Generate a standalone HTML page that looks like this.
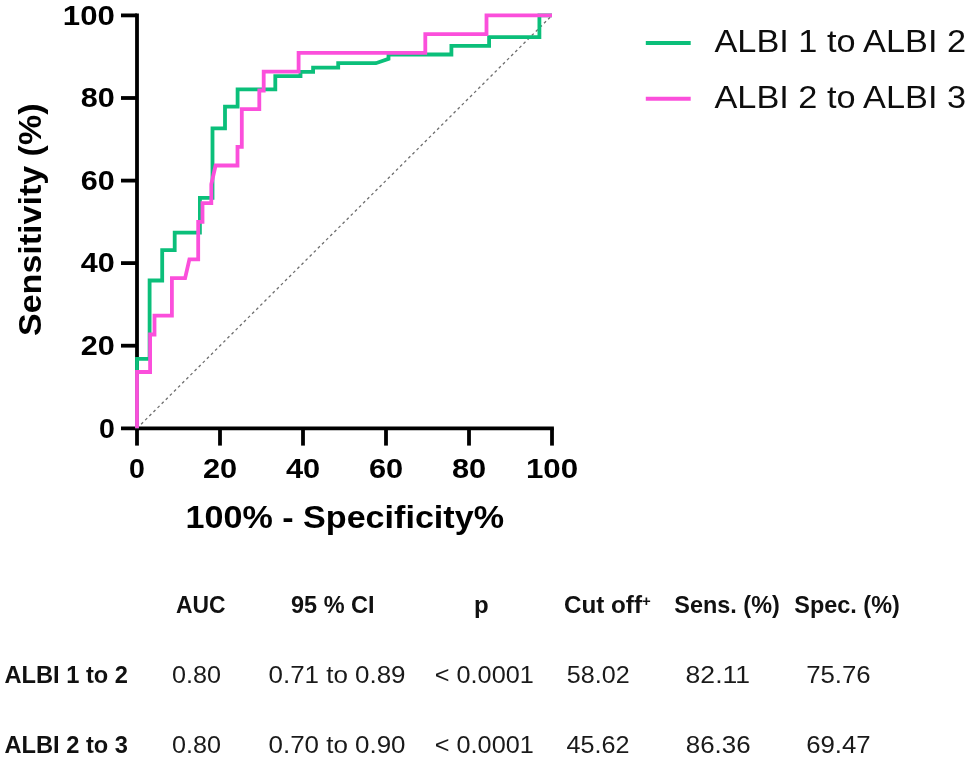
<!DOCTYPE html>
<html lang="en">
<head>
<meta charset="utf-8">
<title>ROC curves ALBI</title>
<style>
html,body{margin:0;padding:0;background:#fff;}
body{width:968px;height:757px;overflow:hidden;}
svg{display:block;}
text{font-family:"Liberation Sans",sans-serif;fill:#000;}
.b{font-weight:bold;}
.tk{font-weight:bold;font-size:28.5px;}
.ax{font-weight:bold;font-size:31px;}
.lg{font-size:30.8px;fill:#0d0d0d;}
.th{font-weight:bold;font-size:24px;fill:#111;}
.td{font-size:24px;fill:#1a1a1a;}
</style>
</head>
<body>
<svg width="968" height="757" viewBox="0 0 968 757">
<rect x="0" y="0" width="968" height="757" fill="#ffffff"/>
<line x1="137.0" y1="428.3" x2="552.0" y2="15.4" stroke="#6e6e6e" stroke-width="1.3" stroke-dasharray="2.8 3"/>
<g stroke="#000" stroke-width="3.8" fill="none" stroke-linecap="butt">
<path d="M137.0 13.5 V430.2"/>
<path d="M121.0 428.3 H553.9"/>
<path d="M121.0 345.7 H137.0"/>
<path d="M121.0 263.1 H137.0"/>
<path d="M121.0 180.6 H137.0"/>
<path d="M121.0 98.0 H137.0"/>
<path d="M121.0 15.4 H137.0"/>
<path d="M137.0 428.3 V445.6"/>
<path d="M220.0 428.3 V445.6"/>
<path d="M303.0 428.3 V445.6"/>
<path d="M386.0 428.3 V445.6"/>
<path d="M469.0 428.3 V445.6"/>
<path d="M552.0 428.3 V445.6"/>
</g>
<path d="M137.0 428.3 L137.0 358.8 L149.6 358.8 L149.6 280.5 L162.2 280.5 L162.2 250.1 L174.7 250.1 L174.7 232.7 L199.9 232.7 L199.9 197.9 L212.5 197.9 L212.5 128.4 L225.0 128.4 L225.0 106.7 L237.6 106.7 L237.6 89.3 L275.3 89.3 L275.3 76.2 L300.5 76.2 L300.5 71.9 L313.1 71.9 L313.1 67.6 L338.2 67.6 L338.2 63.2 L375.9 63.2 L388.5 58.9 L388.5 54.5 L451.4 54.5 L451.4 45.8 L489.1 45.8 L489.1 37.1 L539.4 37.1 L539.4 15.4 L552.0 15.4" fill="none" stroke="#0BBF7A" stroke-width="3.8" stroke-linejoin="miter" stroke-linecap="butt"/>
<path d="M137.0 428.3 L137.0 372.0 L150.1 372.0 L150.1 334.5 L154.5 334.5 L154.5 315.7 L171.9 315.7 L171.9 278.2 L185.1 278.2 L189.4 259.4 L198.2 259.4 L198.2 221.9 L202.5 221.9 L202.5 203.1 L211.3 203.1 L211.3 184.3 L215.6 165.5 L237.5 165.5 L237.5 146.8 L241.8 146.8 L241.8 109.2 L259.3 109.2 L259.3 90.5 L263.7 90.5 L263.7 71.7 L298.6 71.7 L298.6 52.9 L425.3 52.9 L425.3 34.2 L486.5 34.2 L486.5 15.4 L552.0 15.4" fill="none" stroke="#FB4FDB" stroke-width="3.8" stroke-linejoin="miter" stroke-linecap="butt"/>
<text class="tk" x="114.8" y="25.0" text-anchor="end" textLength="52.0" lengthAdjust="spacingAndGlyphs">100</text>
<text class="tk" x="114.8" y="107.4" text-anchor="end" textLength="34.0" lengthAdjust="spacingAndGlyphs">80</text>
<text class="tk" x="114.8" y="189.9" text-anchor="end" textLength="34.0" lengthAdjust="spacingAndGlyphs">60</text>
<text class="tk" x="114.8" y="272.4" text-anchor="end" textLength="34.0" lengthAdjust="spacingAndGlyphs">40</text>
<text class="tk" x="114.8" y="354.9" text-anchor="end" textLength="34.0" lengthAdjust="spacingAndGlyphs">20</text>
<text class="tk" x="114.8" y="437.5" text-anchor="end">0</text>
<text class="tk" x="137.0" y="478.3" text-anchor="middle">0</text>
<text class="tk" x="220.0" y="478.3" text-anchor="middle" textLength="34.2" lengthAdjust="spacingAndGlyphs">20</text>
<text class="tk" x="303.0" y="478.3" text-anchor="middle" textLength="34.2" lengthAdjust="spacingAndGlyphs">40</text>
<text class="tk" x="386.0" y="478.3" text-anchor="middle" textLength="34.2" lengthAdjust="spacingAndGlyphs">60</text>
<text class="tk" x="469.0" y="478.3" text-anchor="middle" textLength="34.2" lengthAdjust="spacingAndGlyphs">80</text>
<text class="tk" x="552.0" y="478.3" text-anchor="middle" textLength="52.2" lengthAdjust="spacingAndGlyphs">100</text>
<text class="ax" x="185.5" y="527.9" textLength="318.5" lengthAdjust="spacingAndGlyphs">100% - Specificity%</text>
<text class="lg" x="714.5" y="52.0" textLength="251.5" lengthAdjust="spacingAndGlyphs">ALBI 1 to ALBI 2</text>
<text class="lg" x="714.5" y="107.9" textLength="251.5" lengthAdjust="spacingAndGlyphs">ALBI 2 to ALBI 3</text>
<text class="th" x="176.0" y="613.0" textLength="49.5" lengthAdjust="spacingAndGlyphs">AUC</text>
<text class="th" x="291.0" y="613.0" textLength="83.5" lengthAdjust="spacingAndGlyphs">95 % CI</text>
<text class="th" x="474.0" y="613.0">p</text>
<text class="th" x="564.0" y="613.0" textLength="78.0" lengthAdjust="spacingAndGlyphs">Cut off</text>
<text class="th" x="642.0" y="606.2" style="font-size:15px">+</text>
<text class="th" x="674.3" y="613.0" textLength="105.5" lengthAdjust="spacingAndGlyphs">Sens. (%)</text>
<text class="th" x="794.3" y="613.0" textLength="105.5" lengthAdjust="spacingAndGlyphs">Spec. (%)</text>
<text class="th" x="4.5" y="682.5" textLength="123.5" lengthAdjust="spacingAndGlyphs">ALBI 1 to 2</text>
<text class="th" x="4.5" y="753.0" textLength="123.5" lengthAdjust="spacingAndGlyphs">ALBI 2 to 3</text>
<text class="td" x="172.0" y="682.5" textLength="49.0" lengthAdjust="spacingAndGlyphs">0.80</text>
<text class="td" x="172.0" y="753.0" textLength="49.0" lengthAdjust="spacingAndGlyphs">0.80</text>
<text class="td" x="268.5" y="682.5" textLength="137.0" lengthAdjust="spacingAndGlyphs">0.71 to 0.89</text>
<text class="td" x="268.5" y="753.0" textLength="137.0" lengthAdjust="spacingAndGlyphs">0.70 to 0.90</text>
<text class="td" x="434.8" y="682.5" textLength="99.0" lengthAdjust="spacingAndGlyphs">&lt; 0.0001</text>
<text class="td" x="434.8" y="753.0" textLength="99.0" lengthAdjust="spacingAndGlyphs">&lt; 0.0001</text>
<text class="td" x="566.8" y="682.5" textLength="62.8" lengthAdjust="spacingAndGlyphs">58.02</text>
<text class="td" x="566.5" y="753.0" textLength="63.0" lengthAdjust="spacingAndGlyphs">45.62</text>
<text class="td" x="685.6" y="682.5" textLength="64.5" lengthAdjust="spacingAndGlyphs">82.11</text>
<text class="td" x="685.8" y="753.0" textLength="64.8" lengthAdjust="spacingAndGlyphs">86.36</text>
<text class="td" x="806.2" y="682.5" textLength="64.5" lengthAdjust="spacingAndGlyphs">75.76</text>
<text class="td" x="806.2" y="753.0" textLength="64.5" lengthAdjust="spacingAndGlyphs">69.47</text>
<text class="ax" transform="translate(41.4 336.0) rotate(-90)" x="0" y="0" textLength="232.5" lengthAdjust="spacingAndGlyphs">Sensitivity (%)</text>
<line x1="645.8" y1="43.0" x2="690.7" y2="43.0" stroke="#0BBF7A" stroke-width="4.0"/>
<line x1="645.8" y1="98.8" x2="690.7" y2="98.8" stroke="#FB4FDB" stroke-width="4.0"/>
</svg>
</body>
</html>
